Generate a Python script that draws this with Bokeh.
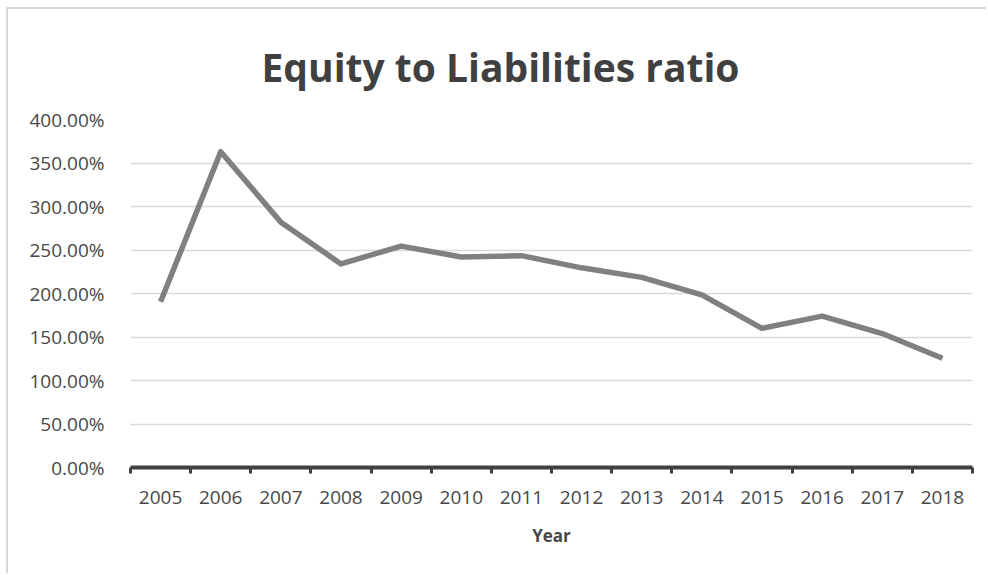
from bokeh.plotting import figure
from bokeh.models import Range1d, FixedTicker, PrintfTickFormatter, Title
from bokeh.embed import file_html
from bokeh.resources import INLINE

years = ["2005", "2006", "2007", "2008", "2009", "2010", "2011",
         "2012", "2013", "2014", "2015", "2016", "2017", "2018"]
ratio_pct = [190.5, 363.0, 282.0, 234.0, 254.5, 242.0, 243.5,
             229.5, 218.5, 198.5, 160.0, 174.0, 154.0, 125.5]
y_ticks = [0, 50, 100, 150, 200, 250, 300, 350, 400]
title_text = "Equity to Liabilities ratio"

FONT = "Open Sans"
TXT = "#474747"

xs = [i + 0.5 for i in range(len(years))]

p = figure(width=980, height=566, output_backend="svg", toolbar_location=None,
           x_range=Range1d(0, len(years)), y_range=Range1d(0, 400),
           min_border_left=122, min_border_right=16,
           min_border_top=110, min_border_bottom=108,
           background_fill_color="white", border_fill_color="white")
p.styles = {"margin-left": "6px", "margin-top": "7px",
            "border-style": "solid", "border-color": "#d9d9d9",
            "border-width": "2px 0px 0px 2px"}
p.outline_line_color = None

p.title = Title(text=title_text, align="left", offset=131, standoff=54,
                text_font=FONT, text_font_size="39px", text_font_style="bold",
                text_color="#404040")

# grid
p.xgrid.grid_line_color = None
p.ygrid.ticker = FixedTicker(ticks=y_ticks)
p.ygrid.grid_line_color = "#d9d9d9"
p.ygrid.grid_line_width = 1.5

# y axis
p.yaxis.ticker = FixedTicker(ticks=y_ticks)
p.yaxis.formatter = PrintfTickFormatter(format="%.2f%%")
p.yaxis.axis_line_color = None
p.yaxis.major_tick_line_color = None
p.yaxis.minor_tick_line_color = None
p.yaxis.major_label_text_font = FONT
p.yaxis.major_label_text_font_size = "19px"
p.yaxis.major_label_text_color = TXT
p.yaxis.major_label_standoff = 20

# x axis
p.xaxis.ticker = FixedTicker(ticks=xs, minor_ticks=list(range(len(years) + 1)))
p.xaxis.major_label_overrides = {x: y for x, y in zip(xs, years)}
p.xaxis.axis_line_color = "#404040"
p.xaxis.axis_line_width = 4
p.xaxis.major_tick_line_color = None
p.xaxis.minor_tick_line_color = "#404040"
p.xaxis.minor_tick_line_width = 3
p.xaxis.minor_tick_in = 0
p.xaxis.minor_tick_out = 6
p.xaxis.major_label_text_font = FONT
p.xaxis.major_label_text_font_size = "19px"
p.xaxis.major_label_text_color = TXT
p.xaxis.major_label_standoff = 17
p.xaxis.axis_label = "Year"
p.xaxis.axis_label_text_font = FONT
p.xaxis.axis_label_text_font_size = "17px"
p.xaxis.axis_label_text_font_style = "bold"
p.xaxis.axis_label_text_color = TXT
p.xaxis.axis_label_standoff = 17

p.line(xs, ratio_pct, line_color="#808080", line_width=5.5, line_join="round")

open("out.html", "w").write(file_html(p, INLINE))
